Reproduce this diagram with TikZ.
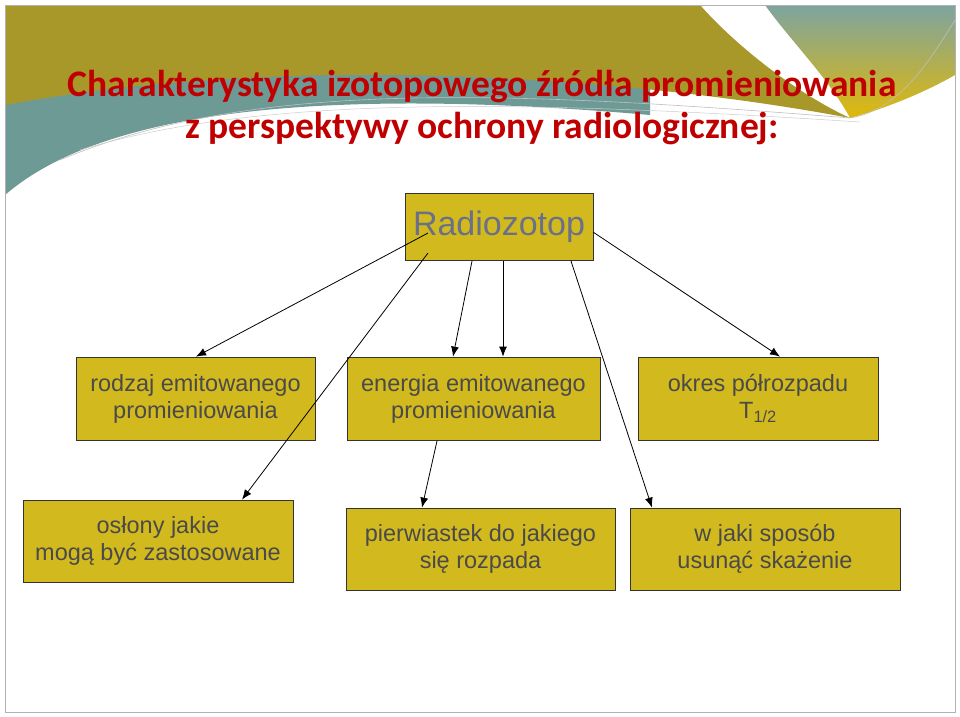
\documentclass[tikz,border=0pt]{standalone}
\usepackage{fontspec}
\setmainfont{Liberation Sans}
\newfontfamily\titlefont{Carlito}
\usetikzlibrary{arrows.meta}
\definecolor{boxfill}{HTML}{D2BA1E}
\definecolor{olive}{HTML}{A8982A}
\definecolor{teal}{HTML}{6E9A96}
\definecolor{titlered}{HTML}{C00000}
\definecolor{txt}{HTML}{4A4A4A}
\definecolor{slate}{HTML}{6B7089}
\definecolor{gold}{HTML}{E0B80A}
\tikzset{
  box/.style={draw=black!80, fill=boxfill, line width=0.8pt, inner sep=0pt, align=center, font=\fontsize{23.5}{27}\selectfont, text=txt},
  arr/.style={draw=black, line width=0.8pt, -{Latex[length=10pt,width=8pt]}},
  ttl/.style={font=\titlefont\bfseries\fontsize{37.5}{42}\selectfont, align=center},
}
\begin{document}
\begin{tikzpicture}[x=1pt,y=-1pt]
\useasboundingbox (0,0) rectangle (960,716);
\fill[white] (0,0) rectangle (960,716);
% banner
\fill[teal] (5,5) -- (5,195) .. controls (80,130) and (250,80) .. (650,115) -- (650,5) -- cycle;
\fill[olive] (5,5) -- (700,5) .. controls (740,50) and (800,95) .. (850,118) .. controls (650,80) and (300,50) .. (5,105) -- cycle;
\shade[top color=teal!90, bottom color=gold] (765,5) -- (955,5) -- (955,75) .. controls (920,95) and (880,110) .. (850,118) .. controls (830,80) and (790,40) .. (765,5) -- cycle;
\draw[gray!50, line width=0.6pt] (60,160) .. controls (250,80) and (500,90) .. (850,118) .. controls (900,110) and (930,60) .. (955,20);
\draw[gray!40, line width=0.5pt] (80,150) .. controls (260,95) and (520,100) .. (860,122);
\draw[gray!60, line width=0.8pt] (5,5) rectangle (955,712);
% title
\node[ttl, text=titlered] (title) at (482,108) {Charakterystyka izotopowego źródła promieniowania\\z perspektywy ochrony radiologicznej:};
% boxes
\node[box, minimum width=188pt, minimum height=67pt, text=slate, font=\fontsize{34}{36}\selectfont] (r) at (499,226.5) {Radiozotop};
\node[box, minimum width=239pt, minimum height=83pt] (a) at (195.5,398.5) {rodzaj emitowanego\\promieniowania};
\node[box, minimum width=253pt, minimum height=83pt] (b) at (473.5,398.5) {energia emitowanego\\promieniowania};
\node[box, minimum width=240pt, minimum height=83pt] (c) at (758,398.5) {okres półrozpadu\\T\textsubscript{1/2}};
\node[box, minimum width=270pt, minimum height=82pt] (d) at (158,541) {osłony jakie\\mogą być zastosowane};
\node[box, minimum width=269pt, minimum height=82pt] (e) at (480.5,549) {pierwiastek do jakiego\\się rozpada};
\node[box, minimum width=270pt, minimum height=82pt] (f) at (765,549) {w jaki sposób\\usunąć skażenie};
% connectors
\coordinate (s1) at (428,233);
\coordinate (s2) at (428,253);
\coordinate (s3) at (472,261);
\coordinate (s4) at (503,261);
\coordinate (s5) at (571,261);
\coordinate (s6) at (593,232);
\coordinate (t1) at (437,441);
\draw[arr] (s1) -- (a.north -| 196,0);
\draw[arr] (s2) -- (d.north -| 242,0);
\draw[arr] (s3) -- (b.north -| 453,0);
\draw[arr] (t1) -- (e.north -| 422,0);
\draw[arr] (s4) -- (b.north -| 503,0);
\draw[arr] (s5) -- (f.north -| 652,0);
\draw[arr] (s6) -- (c.north -| 780,0);
\end{tikzpicture}
\end{document}
